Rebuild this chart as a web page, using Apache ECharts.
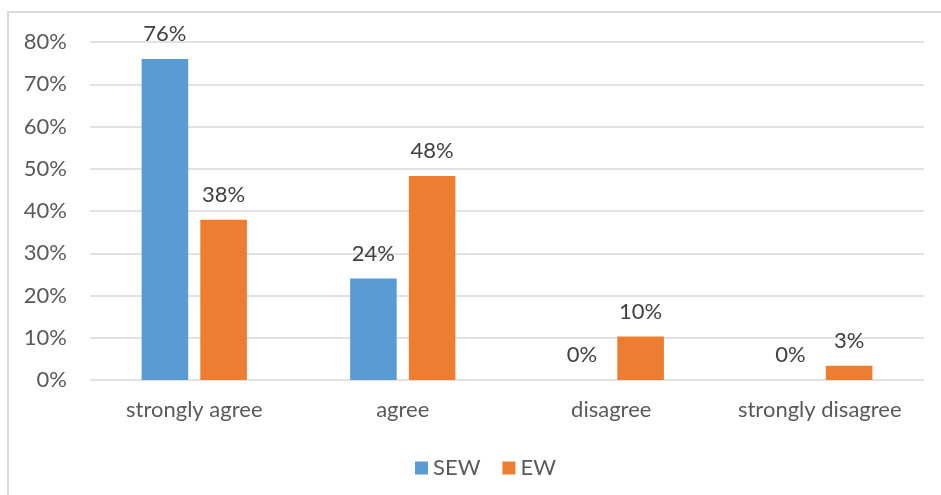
<!DOCTYPE html>
<html>
<head>
<meta charset="utf-8">
<script src="https://cdn.jsdelivr.net/npm/echarts@6/dist/echarts.min.js"></script>
<style>
  html, body { margin: 0; padding: 0; background: #ffffff; }
  #chart { width: 941px; height: 495px; }
</style>
</head>
<body>
<div id="chart"></div>
<script>
// Survey answers, share of respondents per group
const categories = ['strongly agree', 'agree', 'disagree', 'strongly disagree'];
const sewValues = [0.76, 0.24, 0.0, 0.0];
const ewValues = [0.379, 0.483, 0.103, 0.034];
const seriesNames = ['SEW', 'EW'];
const yTicks = { min: 0, max: 0.8, interval: 0.1 };

const FONT = 'Lato';
const FONT_SIZE = 22;
const pct = v => Math.round(v * 100) + '%';

const chart = echarts.init(document.getElementById('chart'), null, { renderer: 'canvas' });

const labelStyle = {
  show: true,
  position: 'top',
  distance: 14,
  color: '#404040',
  fontFamily: FONT,
  fontSize: FONT_SIZE,
  formatter: p => pct(p.value)
};

chart.setOption({
  animation: false,
  backgroundColor: '#ffffff',
  graphic: [{
    type: 'rect',
    silent: true,
    shape: { x: 8, y: 12, width: 1200, height: 1200 },
    style: { fill: 'none', stroke: '#d9d9d9', lineWidth: 2 }
  }],
  grid: { left: 90, right: 17, top: 42, bottom: 115, containLabel: false },
  legend: {
    data: seriesNames,
    top: 452,
    left: 410,
    itemWidth: 13,
    itemHeight: 13,
    itemGap: 22,
    icon: 'rect',
    textStyle: { color: '#595959', fontFamily: FONT, fontSize: FONT_SIZE }
  },
  xAxis: {
    type: 'category',
    data: categories,
    axisLine: { show: false },
    axisTick: { show: false },
    axisLabel: {
      interval: 0,
      hideOverlap: false,
      color: '#595959', fontFamily: FONT, fontSize: FONT_SIZE, margin: 19
    }
  },
  yAxis: {
    type: 'value',
    min: yTicks.min,
    max: yTicks.max,
    interval: yTicks.interval,
    axisLine: { show: false },
    axisTick: { show: false },
    axisLabel: {
      color: '#595959', fontFamily: FONT, fontSize: FONT_SIZE, margin: 23,
      formatter: v => pct(v)
    },
    splitLine: { show: true, lineStyle: { color: '#d9d9d9', width: 1.5 } }
  },
  series: [
    {
      name: seriesNames[0],
      type: 'bar',
      data: sewValues,
      itemStyle: { color: '#5b9bd5' },
      barGap: '26%',
      barCategoryGap: '49.5%',
      label: labelStyle
    },
    {
      name: seriesNames[1],
      type: 'bar',
      data: ewValues,
      itemStyle: { color: '#ed7d31' },
      barGap: '26%',
      barCategoryGap: '49.5%',
      label: labelStyle
    }
  ]
});
</script>
</body>
</html>
